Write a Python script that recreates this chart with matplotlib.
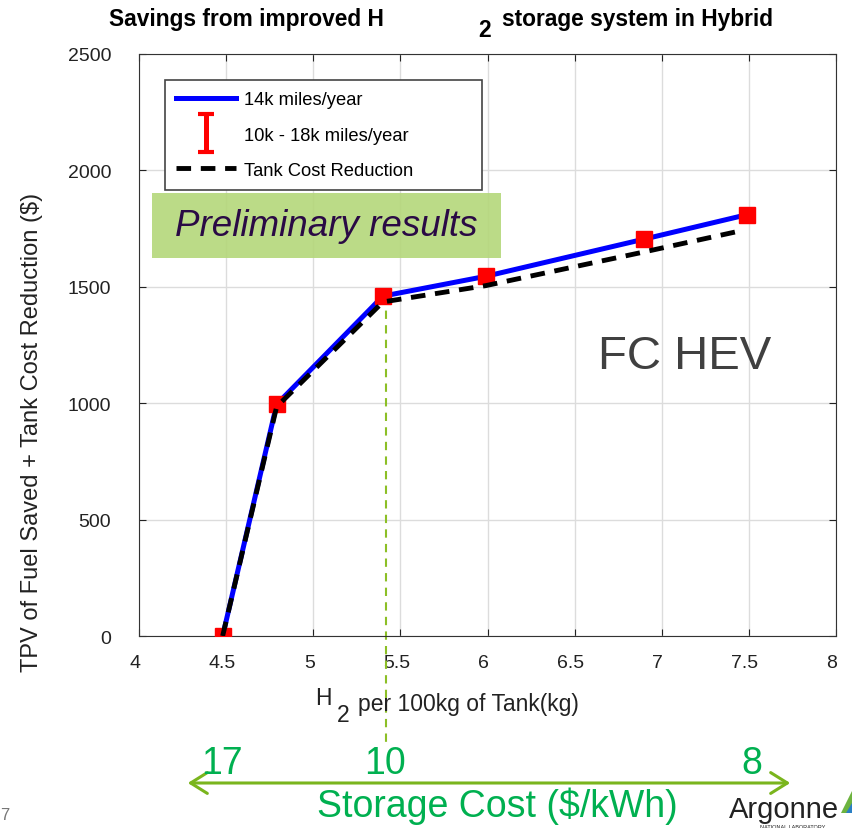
import matplotlib
matplotlib.use("Agg")
import matplotlib.pyplot as plt
import matplotlib.transforms as mtransforms
from matplotlib.container import ErrorbarContainer
from matplotlib.legend_handler import HandlerErrorbar
from matplotlib.patches import Rectangle, Polygon, FancyArrowPatch

plt.rcParams['font.family'] = ['Liberation Sans', 'DejaVu Sans']

# data
h2_per_tank = [4.48, 4.79, 5.40, 5.99, 6.90, 7.49]
savings_14k = [0, 995, 1460, 1545, 1705, 1810]
tank_cost_x = [4.48, 4.79, 5.40, 5.99, 6.90, 7.45]
tank_cost_y = [0, 985, 1435, 1505, 1650, 1740]
marked_x = 5.42
marked_y = 1460
cost_labels = ["17", "10", "8"]
cost_label_px = [222, 385, 752]

W, H = 852, 829
fig = plt.figure(figsize=(W / 100, H / 100), dpi=100)


def px(x, y):
    return x / W, 1 - y / H


ax = fig.add_axes([139 / W, 1 - 637 / H, 697 / W, 582 / H])

l14, = ax.plot(h2_per_tank, savings_14k, color='blue', lw=3.6, label='14k miles/year', zorder=3)
eb = ax.errorbar(h2_per_tank, savings_14k, yerr=0, fmt='none', ecolor='red', elinewidth=3.6,
                 capsize=5.5, capthick=3, label='10k - 18k miles/year', zorder=4)
ax.plot(h2_per_tank, savings_14k, 's', color='red', ms=11, zorder=5)
ltank, = ax.plot(tank_cost_x, tank_cost_y, color='black', lw=3.5, dashes=(3, 2),
                 label='Tank Cost Reduction', zorder=6)

# green marker line dropping below the axis
ax.plot([marked_x, marked_x], [marked_y, -460], color='#8cbf26', lw=1.5,
        dashes=(4, 3), clip_on=False, zorder=2)

ax.set_xlim(4, 8)
ax.set_ylim(0, 2500)
ax.set_xticks([4, 4.5, 5, 5.5, 6, 6.5, 7, 7.5, 8])
ax.set_xticklabels(['4', '4.5', '5', '5.5', '6', '6.5', '7', '7.5', '8'])
ax.set_yticks([0, 500, 1000, 1500, 2000, 2500])
ax.tick_params(direction='in', length=5, top=True, right=True, labelsize=14,
               colors='#222222')
ax.tick_params(axis='y', pad=20)
ax.tick_params(axis='x', pad=13)
shift = mtransforms.ScaledTranslation(-4 / 100, 0, fig.dpi_scale_trans)
for t in ax.get_xticklabels():
    t.set_transform(t.get_transform() + shift)
ax.grid(True, color='#dcdcdc', lw=1)
ax.set_axisbelow(True)
for s in ax.spines.values():
    s.set_color('#333333')

fig.text(*px(32, 432), 'TPV of Fuel Saved + Tank Cost Reduction ($)', fontsize=17,
         rotation=90, ha='center', va='center', color='#222222')

leg = ax.legend([l14, eb, ltank],
                ['14k miles/year', '10k - 18k miles/year', 'Tank Cost Reduction'],
                loc='upper left', bbox_to_anchor=(0.037, 0.765, 0.455, 0.19),
                mode='expand', fontsize=13.2, handlelength=3.3, frameon=True,
                fancybox=False, borderpad=0.6, labelspacing=1.0, handletextpad=0.4,
                borderaxespad=0,
                handler_map={ErrorbarContainer: HandlerErrorbar(yerr_size=1.05)})
leg.get_frame().set_edgecolor('#444444')
leg.get_frame().set_linewidth(1.2)
leg.get_frame().set_alpha(1)

# preliminary results box
x0, y0 = px(152, 259)
fig.add_artist(Rectangle((x0, y0), 349 / W, 65 / H, transform=fig.transFigure,
                         facecolor='#b4d77a', edgecolor='none', alpha=0.9, zorder=10))
fig.text(*px(326, 227), 'Preliminary results', fontsize=26.5, style='italic',
         color='#2a0a45', ha='center', va='center', zorder=11)

fig.text(*px(685, 357), 'FC HEV', fontsize=34, color='#404040', ha='center', va='center')

# title with the stray subscript
fig.text(*px(384, 26), 'Savings from improved H', fontsize=16.4, fontweight='bold',
         ha='right', va='baseline')
fig.text(*px(485, 37), '2', fontsize=16.4, fontweight='bold', ha='center', va='baseline')
fig.text(*px(502, 26), 'storage system in Hybrid', fontsize=16.4, fontweight='bold',
         ha='left', va='baseline')

# x label
fig.text(*px(323, 699), 'H', fontsize=16.5, ha='center', va='center', color='#222222')
fig.text(*px(343, 716), '2', fontsize=16.5, ha='center', va='center', color='#222222')
fig.text(*px(358, 704), 'per 100kg of Tank(kg)', fontsize=16.5, ha='left', va='center',
         color='#222222')

# storage cost arrow
fig.add_artist(FancyArrowPatch(px(185, 784), px(793, 784), transform=fig.transFigure,
                               arrowstyle='<->,head_length=8,head_width=5',
                               color='#7ab51d', lw=2.2, mutation_scale=1.5))
for lab, xp in zip(cost_labels, cost_label_px):
    fig.text(*px(xp, 764), lab, fontsize=27, color='#00b050', ha='center', va='center')
fig.text(*px(497, 806), 'Storage Cost ($/kWh)', fontsize=27, color='#00b050',
         ha='center', va='center')

fig.text(*px(5, 816), '7', fontsize=12, color='#777777', ha='center', va='center')
fig.text(*px(729, 810), 'Argonne', fontsize=21, color='#222222', ha='left', va='center')
fig.text(*px(760, 828), 'NATIONAL LABORATORY', fontsize=4, color='#222222', ha='left',
         va='center')
fig.add_artist(Polygon([px(841, 814), px(852, 792), px(852, 814)], closed=True,
                       transform=fig.transFigure, facecolor='#6db33f', edgecolor='none'))
fig.add_artist(Polygon([px(846, 814), px(852, 804), px(852, 814)], closed=True,
                       transform=fig.transFigure, facecolor='#2a7fc4', edgecolor='none'))

fig.savefig('out.png', dpi=100)
